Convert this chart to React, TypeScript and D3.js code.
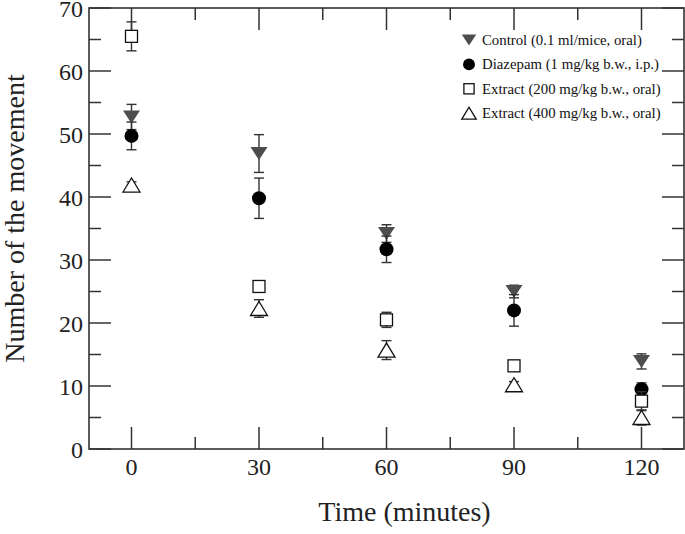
import React, { useEffect } from "react";
import * as d3 from "d3";

const width = 685,
  height = 534;

// time points (minutes)
const times = [0, 30, 60, 90, 120];

// mean number of movements and error for each group
const controlMean = [52.7, 46.9, 34.2, 25.0, 13.9];
const controlErr = [2.0, 3.0, 1.4, 1.0, 1.2];
const diazepamMean = [49.7, 39.8, 31.7, 22.0, 9.5];
const diazepamErr = [2.2, 3.2, 2.1, 2.5, 1.0];
const extract200Mean = [65.5, 25.8, 20.5, 13.2, 7.6];
const extract200Err = [2.3, 0.8, 1.2, 0.7, 1.5];
const extract400Mean = [41.9, 22.3, 15.7, 10.2, 5.0];
const extract400Err = [0.5, 1.4, 1.5, 0.5, 1.2];

const legendLabels = [
  "Control (0.1 ml/mice, oral)",
  "Diazepam (1 mg/kg b.w., i.p.)",
  "Extract (200 mg/kg b.w., oral)",
  "Extract (400 mg/kg b.w., oral)",
];

const xTicks = [0, 30, 60, 90, 120];
const xMinor = [15, 45, 75, 105];
const yTicks = [0, 10, 20, 30, 40, 50, 60, 70];
const yMinor = [5, 15, 25, 35, 45, 55, 65];

const margin = { top: 8, right: 1, bottom: 85, left: 89 };

const x = d3
  .scaleLinear()
  .domain([-10, 130])
  .range([margin.left, width - margin.right]);
const y = d3
  .scaleLinear()
  .domain([0, 70])
  .range([height - margin.bottom, margin.top]);

const font = "'Liberation Serif', 'Times New Roman', serif";
const axisColor = "#333";

type Kind = "down" | "circle" | "square" | "up";

function Marker({ kind, cx, cy, s }: { kind: Kind; cx: number; cy: number; s: number }) {
  if (kind === "down") {
    const w = 17 * s,
      h = 13 * s;
    return (
      <path
        d={`M${cx - w / 2},${cy - h / 2}L${cx + w / 2},${cy - h / 2}L${cx},${cy + h / 2}Z`}
        fill="#4d4d4d"
      />
    );
  }
  if (kind === "circle") return <circle cx={cx} cy={cy} r={7 * s} fill="#000" />;
  if (kind === "square") {
    const a = 12 * s;
    return (
      <rect x={cx - a / 2} y={cy - a / 2} width={a} height={a} fill="#fff" stroke="#111" strokeWidth={1.3} />
    );
  }
  const w = 17 * s,
    h = 14 * s;
  return (
    <path
      d={`M${cx - w / 2},${cy + h / 2}L${cx + w / 2},${cy + h / 2}L${cx},${cy - h / 2}Z`}
      fill="#fff"
      stroke="#111"
      strokeWidth={1.3}
    />
  );
}

const series: { kind: Kind; mean: number[]; err: number[] }[] = [
  { kind: "down", mean: controlMean, err: controlErr },
  { kind: "circle", mean: diazepamMean, err: diazepamErr },
  { kind: "square", mean: extract200Mean, err: extract200Err },
  { kind: "up", mean: extract400Mean, err: extract400Err },
];

export default function App() {
  useEffect(() => {
    document.body.style.margin = "0";
  }, []);

  const x0 = margin.left,
    x1 = width - margin.right,
    y0 = height - margin.bottom,
    y1 = margin.top;
  const major = 22,
    minor = 12;

  return (
    <svg width={width} height={height} style={{ display: "block", background: "#fff" }}>
      {/* frame */}
      <rect x={x0} y={y1} width={x1 - x0} height={y0 - y1} fill="none" stroke={axisColor} strokeWidth={1.6} />
      <g stroke={axisColor} strokeWidth={1.5}>
        {yTicks.map((t) => (
          <g key={"y" + t}>
            <line x1={x0} x2={x0 + major} y1={y(t)} y2={y(t)} />
            <line x1={x1} x2={x1 - major} y1={y(t)} y2={y(t)} />
          </g>
        ))}
        {yMinor.map((t) => (
          <g key={"ym" + t}>
            <line x1={x0} x2={x0 + minor} y1={y(t)} y2={y(t)} />
            <line x1={x1} x2={x1 - minor} y1={y(t)} y2={y(t)} />
          </g>
        ))}
        {xTicks.map((t) => (
          <g key={"x" + t}>
            <line x1={x(t)} x2={x(t)} y1={y0} y2={y0 - major} />
            <line x1={x(t)} x2={x(t)} y1={y1} y2={y1 + major} />
          </g>
        ))}
        {xMinor.map((t) => (
          <g key={"xm" + t}>
            <line x1={x(t)} x2={x(t)} y1={y0} y2={y0 - minor} />
            <line x1={x(t)} x2={x(t)} y1={y1} y2={y1 + minor} />
          </g>
        ))}
      </g>

      {/* tick labels */}
      <g fontFamily={font} fontSize={24} fill="#222">
        {yTicks.map((t) => (
          <text key={t} x={x0 - 6} y={y(t) + 1} textAnchor="end" dominantBaseline="central">
            {t}
          </text>
        ))}
        {xTicks.map((t) => (
          <text key={t} x={x(t)} y={y0 + 26} textAnchor="middle">
            {t}
          </text>
        ))}
      </g>

      {/* axis titles */}
      <text x={(x0 + x1) / 2 + 18} y={521} textAnchor="middle" fontFamily={font} fontSize={28} fill="#222">
        Time (minutes)
      </text>
      <text
        transform={`translate(24,${(y0 + y1) / 2 - 10}) rotate(-90)`}
        textAnchor="middle"
        fontFamily={font}
        fontSize={28}
        fill="#222"
      >
        Number of the movement
      </text>

      {/* error bars and points */}
      {series.map((s, si) => (
        <g key={si}>
          <g stroke="#333" strokeWidth={1.4}>
            {times.map((t, i) => {
              const cx = x(t);
              const hi = y(s.mean[i] + s.err[i]);
              const lo = y(s.mean[i] - s.err[i]);
              return (
                <g key={i}>
                  <line x1={cx} x2={cx} y1={hi} y2={lo} />
                  <line x1={cx - 5} x2={cx + 5} y1={hi} y2={hi} />
                  <line x1={cx - 5} x2={cx + 5} y1={lo} y2={lo} />
                </g>
              );
            })}
          </g>
          {times.map((t, i) => (
            <Marker key={i} kind={s.kind} cx={x(t)} cy={y(s.mean[i])} s={1} />
          ))}
        </g>
      ))}

      {/* legend */}
      <g fontFamily={font} fontSize={14.8} fill="#111">
        {legendLabels.map((label, i) => {
          const cy = 40 + i * 24.4;
          return (
            <g key={label}>
              <Marker kind={series[i].kind} cx={469} cy={cy} s={0.85} />
              <text x={482} y={cy} dominantBaseline="central">
                {label}
              </text>
            </g>
          );
        })}
      </g>
    </svg>
  );
}
